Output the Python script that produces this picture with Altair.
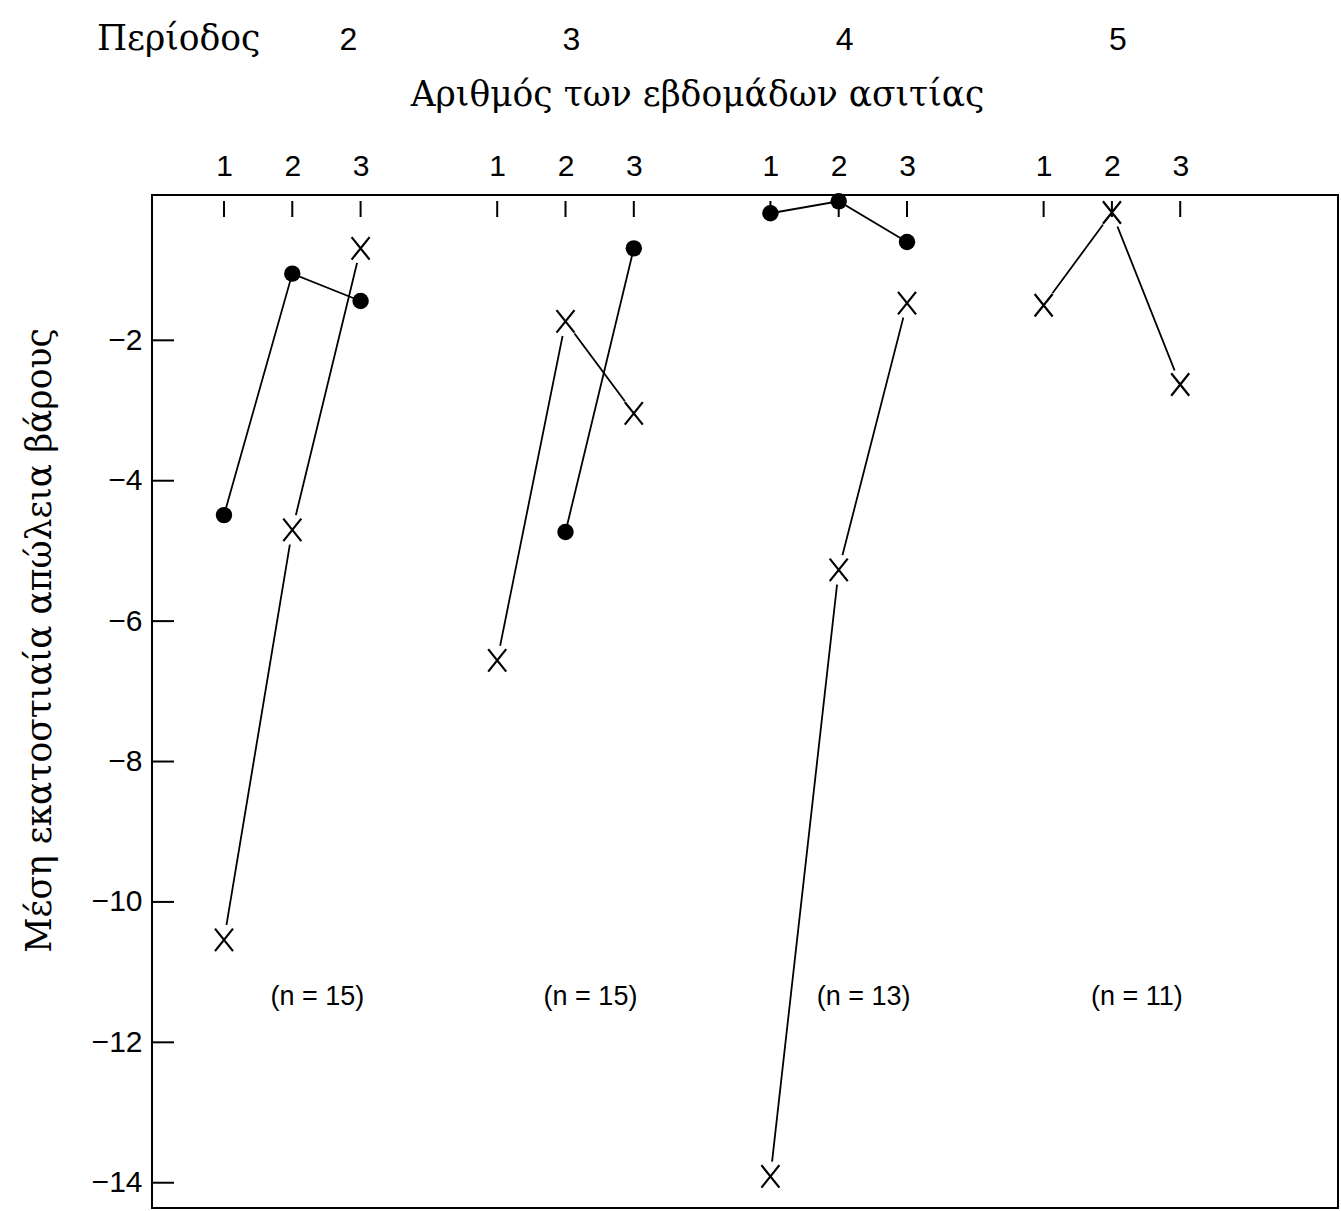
import altair as alt
import pandas as pd

# ---- data ----
periods = [2, 3, 4, 5]
weeks = [1, 2, 3]
dots_p2 = [-4.49, -1.05, -1.44]
dots_p3 = [None, -4.73, -0.69]
dots_p4 = [-0.19, -0.02, -0.60]
dots_p5 = [None, None, None]
cross_p2 = [-10.54, -4.70, -0.69]
cross_p3 = [-6.56, -1.73, -3.04]
cross_p4 = [-13.91, -5.27, -1.47]
cross_p5 = [-1.50, -0.18, -2.63]
n_counts = [15, 15, 13, 11]
y_ticks = [-2, -4, -6, -8, -10, -12, -14]

rows = []
for series, lists in [("dot", [dots_p2, dots_p3, dots_p4, dots_p5]),
                      ("cross", [cross_p2, cross_p3, cross_p4, cross_p5])]:
    for p, vals in zip(periods, lists):
        for w, v in zip(weeks, vals):
            if v is not None:
                rows.append(dict(series=series, period=p, week=w, value=v,
                                 group=f"{series}{p}"))
df = pd.DataFrame(rows)
df["slot"] = (df["period"] - 2) * 4 + df["week"]

tick_df = pd.DataFrame([dict(period=p, week=w, slot=(p - 2) * 4 + w)
                        for p in periods for w in weeks])
ytick_df = pd.DataFrame({"value": y_ticks})
per_df = pd.DataFrame({"period": periods,
                       "slot": [(p - 2) * 4 + 2 for p in periods],
                       "label": [str(p) for p in periods],
                       "n": [f"(n = {n})" for n in n_counts]})

SANS = "Liberation Sans"
SERIF = "DejaVu Serif"
SERIF_SIZE = 34.5

xs = alt.Scale(domain=[-0.054, 17.31], nice=False, zero=False)
ys = alt.Scale(domain=[-14.36, 0.07], nice=False, zero=False)

x_axis = alt.Axis(orient="top", values=list(tick_df["slot"]),
                  labelExpr="((datum.value - 1) % 4) + 1",
                  ticks=False, tickSize=0, domain=False, grid=False,
                  labelFont=SANS, labelFontSize=30, labelColor="black",
                  labelPadding=14, labelAngle=0,
                  title="Αριθμός των εβδομάδων ασιτίας",
                  titleFont=SERIF, titleFontSize=SERIF_SIZE, titleFontWeight="normal",
                  titleColor="black", titleX=545, titleY=-100,
                  titleAlign="center", titleBaseline="middle")
y_axis = alt.Axis(orient="left", values=y_ticks, ticks=False, tickSize=0,
                  domain=False, grid=False,
                  labelFont=SANS, labelFontSize=30, labelColor="black",
                  labelPadding=10,
                  title="Μέση εκατοστιαία απώλεια βάρους",
                  titleFont=SERIF, titleFontSize=SERIF_SIZE, titleFontWeight="normal",
                  titleColor="black", titleX=-112, titleY=445, titleAngle=270,
                  titleAlign="center", titleBaseline="middle")

X = alt.X("slot:Q", scale=xs, axis=x_axis)
Y = alt.Y("value:Q", scale=ys, axis=y_axis)

base = alt.Chart(df)

lines = base.mark_line(color="black", strokeWidth=1.8).encode(
    x=X, y=Y, detail="group:N", order="week:Q")

halo = base.transform_filter(alt.datum.series == "cross").mark_circle(
    size=900, color="white", opacity=1).encode(x=X, y=Y)

cross_path = "M-1,-1.25L1,1.25M-1,1.25L1,-1.25"
crosses = base.transform_filter(alt.datum.series == "cross").mark_point(
    shape=cross_path, filled=False, size=324, strokeWidth=2.2,
    color="black", opacity=1).encode(x=X, y=Y)

dots = base.transform_filter(alt.datum.series == "dot").mark_circle(
    size=270, color="black", opacity=1).encode(x=X, y=Y)

top_ticks = alt.Chart(tick_df).mark_rule(color="black", strokeWidth=2).encode(
    x=X, y=alt.value(6), y2=alt.value(22))

left_ticks = alt.Chart(ytick_df).mark_rule(color="black", strokeWidth=2).encode(
    y=Y, x=alt.value(0), x2=alt.value(22))

per_first = alt.Chart(per_df).transform_filter(alt.datum.period == 2).mark_text(
    font=SANS, fontSize=32, color="black", baseline="middle", dx=56).encode(
    x=X, y=alt.value(-155), text="label:N")
per_rest = alt.Chart(per_df).transform_filter(alt.datum.period > 2).mark_text(
    font=SANS, fontSize=32, color="black", baseline="middle", dx=6).encode(
    x=X, y=alt.value(-155), text="label:N")

periodos = alt.Chart(pd.DataFrame({"t": ["Περίοδος"]})).mark_text(
    font=SERIF, fontSize=SERIF_SIZE, color="black", align="left", baseline="middle").encode(
    x=alt.value(-55), y=alt.value(-155), text="t:N")

n_text = alt.Chart(per_df).mark_text(
    font=SANS, fontSize=27, color="black", baseline="middle", dx=25).encode(
    x=X, y=alt.value(802), text="n:N")

chart = alt.layer(
    lines, halo, top_ticks, left_ticks, crosses, dots,
    per_first, per_rest, periodos, n_text
).properties(
    width=1186, height=1013,
    autosize=alt.AutoSizeParams(type="none"),
    padding={"left": 152, "top": 195, "right": 3, "bottom": 3},
    background="white",
).configure_view(stroke="black", strokeWidth=2)

chart.save("out.html", embed_options={"renderer": "svg", "actions": False})
